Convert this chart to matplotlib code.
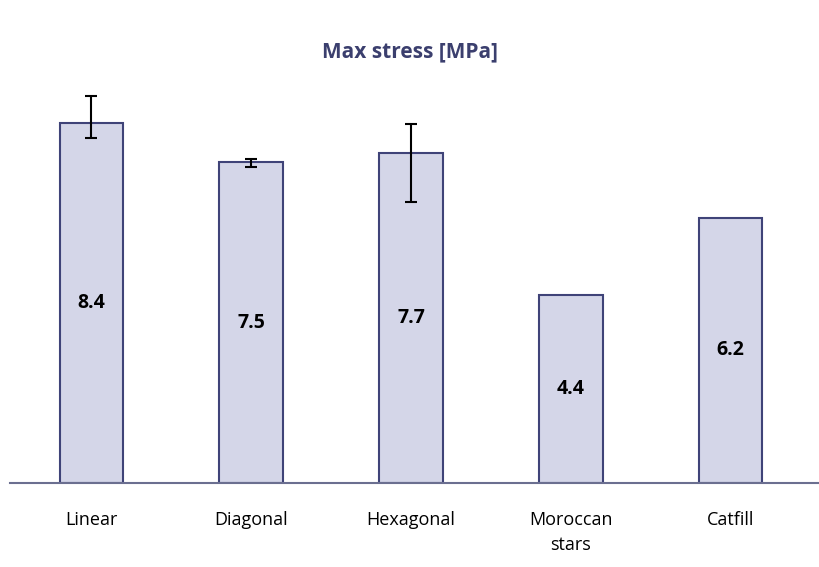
import matplotlib.pyplot as plt

categories = ["Linear", "Diagonal", "Hexagonal", "Moroccan\nstars", "Catfill"]
values = [8.4, 7.5, 7.7, 4.4, 6.2]
err_low = [0.35, 0.12, 1.14, 0, 0]
err_high = [0.65, 0.07, 0.68, 0, 0]

plt.rcParams['font.family'] = ['Open Sans', 'DejaVu Sans']

fig = plt.figure(figsize=(8.2, 5.67), dpi=100)
ax = fig.add_axes([10 / 820, 1 - 483 / 567, 810 / 820, 428 / 567])

x = range(len(categories))
ax.bar(x, values, width=0.4, color='#d4d6e8', edgecolor='#3f4378', linewidth=1.5)
for i, v in enumerate(values):
    if err_high[i] > 0:
        ax.errorbar(i, v, yerr=[[err_low[i]], [err_high[i]]], color='black',
                    capsize=4, elinewidth=1.5, capthick=1.5)
    ax.text(i, v / 2, f"{v}", ha='center', va='center', fontsize=14, fontweight='bold')

ax.set_xlim(-0.51, 4.56)
ax.set_ylim(0, 10)
ax.set_xticks(list(x))
ax.set_xticklabels(categories, fontsize=13, linespacing=1.5)
ax.tick_params(axis='x', length=0, pad=20)
ax.set_yticks([])
for s in ['top', 'right', 'left']:
    ax.spines[s].set_visible(False)
ax.spines['bottom'].set_color('#6b6f90')
ax.spines['bottom'].set_linewidth(1.5)

fig.text(0.5, 1 - 52 / 567, "Max stress [MPa]", ha='center', va='center',
         fontsize=15, fontweight='bold', color='#3b3f6e')

fig.savefig("out.png", dpi=100)
